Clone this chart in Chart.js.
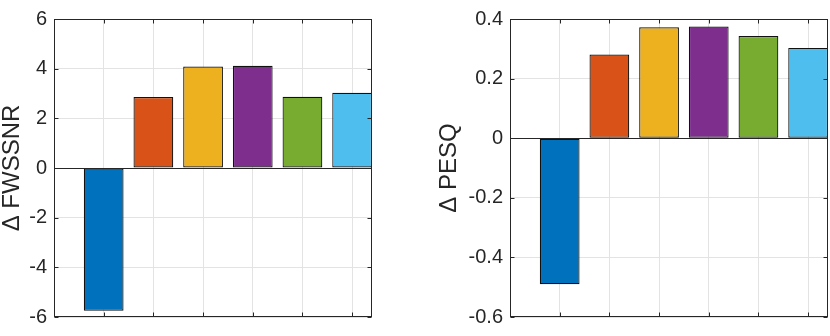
<!DOCTYPE html>
<html>
<head>
<meta charset="utf-8">
<script src="https://cdn.jsdelivr.net/npm/chart.js@4"></script>
<style>
  body { margin: 0; background: #fff; }
  #wrap { position: relative; width: 830px; height: 336px; }
  canvas { position: absolute; top: 0; }
</style>
</head>
<body>
<div id="wrap">
  <canvas id="left" width="415" height="336" style="left:0"></canvas>
  <canvas id="right" width="415" height="336" style="left:415px"></canvas>
</div>
<script>
// 막대 위치와 값
const positions = [1, 2, 3, 4, 5, 6];
const fwssnrValues = [-5.75, 2.86, 4.09, 4.12, 2.87, 3.03];
const pesqValues = [-0.49, 0.281, 0.372, 0.375, 0.343, 0.303];

// 축 눈금
const fwssnrTicks = [-6, -4, -2, 0, 2, 4, 6];
const pesqTicks = [-0.6, -0.4, -0.2, 0, 0.2, 0.4];
const xLimits = [0, 6.4];

// MATLAB 기본 색상
const barColors = ['#0072BD', '#D95319', '#EDB120', '#7E2F8E', '#77AC30', '#4DBEEE'];
const textColor = '#262626';
const fontFamily = '"Liberation Sans", Arial, Helvetica, sans-serif';

// 테두리, 0 기준선, 안쪽 눈금 표시
const axesBox = {
    id: 'axesBox',
    afterDraw(chart) {
        const { ctx, chartArea: a, scales: { x, y } } = chart;
        const L = Math.round(a.left) + 0.5, R = Math.round(a.right) - 0.5;
        const T = Math.round(a.top) + 0.5, B = Math.round(a.bottom) - 0.5;
        ctx.save();
        ctx.strokeStyle = textColor;
        ctx.lineWidth = 1;
        ctx.beginPath();
        const y0 = Math.round(y.getPixelForValue(0)) + 0.5;
        ctx.moveTo(L, y0); ctx.lineTo(R, y0);
        x.ticks.forEach(t => {
            const px = Math.round(x.getPixelForValue(t.value)) + 0.5;
            ctx.moveTo(px, B); ctx.lineTo(px, B - 4);
            ctx.moveTo(px, T); ctx.lineTo(px, T + 4);
        });
        y.ticks.forEach(t => {
            const py = Math.round(y.getPixelForValue(t.value)) + 0.5;
            ctx.moveTo(L, py); ctx.lineTo(L + 4, py);
            ctx.moveTo(R, py); ctx.lineTo(R - 4, py);
        });
        ctx.stroke();
        ctx.strokeRect(L, T, R - L, B - T);
        ctx.restore();
    }
};

function makeChart(id, values, yTicks, title, padding, yWidth) {
    return new Chart(document.getElementById(id), {
        type: 'bar',
        data: {
            datasets: [{
                data: positions.map((p, i) => ({ x: p, y: values[i] })),
                backgroundColor: barColors,
                borderColor: '#111111',
                borderWidth: 1.2,
                borderSkipped: false,
                barPercentage: 0.8,
                categoryPercentage: 1
            }]
        },
        options: {
            responsive: false,
            animation: false,
            layout: { padding: padding },
            plugins: { legend: { display: false }, tooltip: { enabled: false } },
            scales: {
                x: {
                    type: 'linear',
                    offset: false,
                    min: xLimits[0],
                    max: xLimits[1],
                    afterBuildTicks: s => { s.ticks = positions.map(v => ({ value: v })); },
                    afterFit: s => { s.height = 10; },
                    ticks: { display: false },
                    grid: { color: '#e3e3e3', drawTicks: false, offset: false },
                    border: { display: false }
                },
                y: {
                    min: yTicks[0],
                    max: yTicks[yTicks.length - 1],
                    afterBuildTicks: s => { s.ticks = yTicks.map(v => ({ value: v })); },
                    afterFit: s => { s.width = yWidth; },
                    ticks: {
                        padding: 7,
                        color: textColor,
                        font: { family: fontFamily, size: 20 },
                        callback: v => String(v)
                    },
                    grid: { color: '#e3e3e3', drawTicks: false },
                    border: { display: false },
                    title: {
                        display: true,
                        text: title,
                        color: textColor,
                        font: { family: fontFamily, size: 24, lineHeight: 1 },
                        padding: { top: 0, bottom: 0 }
                    }
                }
            }
        },
        plugins: [axesBox]
    });
}

makeChart('left', fwssnrValues, fwssnrTicks, 'Δ FWSSNR',
    { left: 0, top: 8, right: 43, bottom: 0 }, 54);
makeChart('right', pesqValues, pesqTicks, 'Δ PESQ',
    { left: 22, top: 8, right: 2, bottom: 0 }, 73);
</script>
</body>
</html>
